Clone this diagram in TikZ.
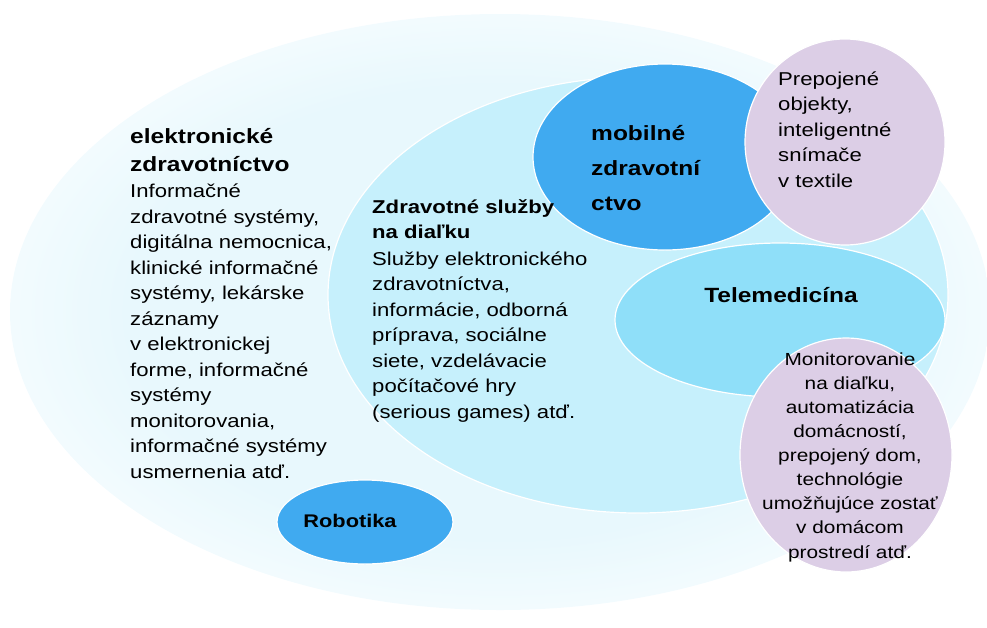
\documentclass[tikz,border=0pt]{standalone}
\usepackage{xcolor}
\usepackage{fontspec}
\setmainfont{Liberation Sans}[FakeStretch=1.19]
\usepackage{tikz}
\usetikzlibrary{shapes.geometric}

\definecolor{paleblue}{HTML}{E8F8FD}
\definecolor{lightblue}{HTML}{C6F0FC}
\definecolor{midblue}{HTML}{8FDFF9}
\definecolor{darkblue}{HTML}{40AAF0}
\definecolor{lilac}{HTML}{DCCEE6}
\pgfdeclareradialshading{fadeout}{\pgfpoint{0bp}{0bp}}{color(0bp)=(paleblue); color(19bp)=(paleblue); color(25bp)=(paleblue!55!white); color(27bp)=(white); color(50bp)=(white)}

\begin{document}
\begin{tikzpicture}[x=1pt, y=-1pt]
  \tikzset{
    blob/.style={ellipse, draw=white, line width=1.2pt, inner sep=0pt},
    headtxt/.style={inner sep=0pt, align=left, anchor=base west,
                    font=\fontsize{20.6}{28}\selectfont\bfseries},
    bodytxt/.style={inner sep=0pt, align=left, anchor=base west,
                    font=\fontsize{18.6}{25.5}\selectfont}
  }
  \useasboundingbox (0,0) rectangle (987,627);
  % Areas
  \node[ellipse, inner sep=0pt, minimum width=980pt, minimum height=596pt,
        shading=fadeout] (ehealth) at (500,312) {};
  \node[blob, fill=lightblue, minimum width=620pt, minimum height=436pt] (remote) at (638,295) {};
  \node[blob, fill=darkblue, minimum width=176pt, minimum height=84pt]  (robot)  at (365,522) {};
  \node[blob, fill=midblue,  minimum width=330pt, minimum height=154pt] (telemed) at (780,320) {};
  \node[blob, fill=darkblue, minimum width=264pt, minimum height=186pt] (mobile) at (665,157) {};
  \node[blob, fill=lilac,    minimum width=200pt, minimum height=206pt] (things) at (845,142) {};
  \node[blob, fill=lilac,    minimum width=212pt, minimum height=234pt] (home)   at (846,455) {};
  % Labels (anchored at the baseline of the last line)
  \node[headtxt] (ehhead) at (130,171) {elektronické\\zdravotníctvo};
  \node[bodytxt] (ehbody) at (130,478) {Informačné\\zdravotné systémy,\\digitálna nemocnica,\\
    klinické informačné\\systémy, lekárske\\záznamy\\v elektronickej\\forme, informačné\\
    systémy\\monitorovania,\\informačné systémy\\usmernenia atď.};
  \node[headtxt, font=\fontsize{18.6}{25}\selectfont\bfseries] (rshead) at (372,238) {Zdravotné služby\\na diaľku};
  \node[bodytxt] (rsbody) at (372,418) {Služby elektronického\\zdravotníctva,\\informácie, odborná\\
    príprava, sociálne\\siete, vzdelávacie\\počítačové hry\\(serious games) atď.};
  \node[headtxt, font=\fontsize{20.6}{35}\selectfont\bfseries] (mhead) at (591,210) {mobilné\\zdravotní\\ctvo};
  \node[bodytxt] (tbody) at (778,187) {Prepojené\\objekty,\\inteligentné\\snímače\\v textile};
  \node[headtxt, anchor=base] (tmhead) at (781,302) {Telemedicína};
  \node[bodytxt, align=center, anchor=base, font=\fontsize{17.5}{24.1}\selectfont] (hbody) at (850,558)
    {Monitorovanie\\na diaľku,\\automatizácia\\domácností,\\prepojený dom,\\technológie\\
     umožňujúce zostať\\v domácom\\prostredí atď.};
  \node[headtxt, anchor=base, font=\fontsize{18.3}{22}\selectfont\bfseries] (rhead) at (350,527) {Robotika};
\end{tikzpicture}
\end{document}
